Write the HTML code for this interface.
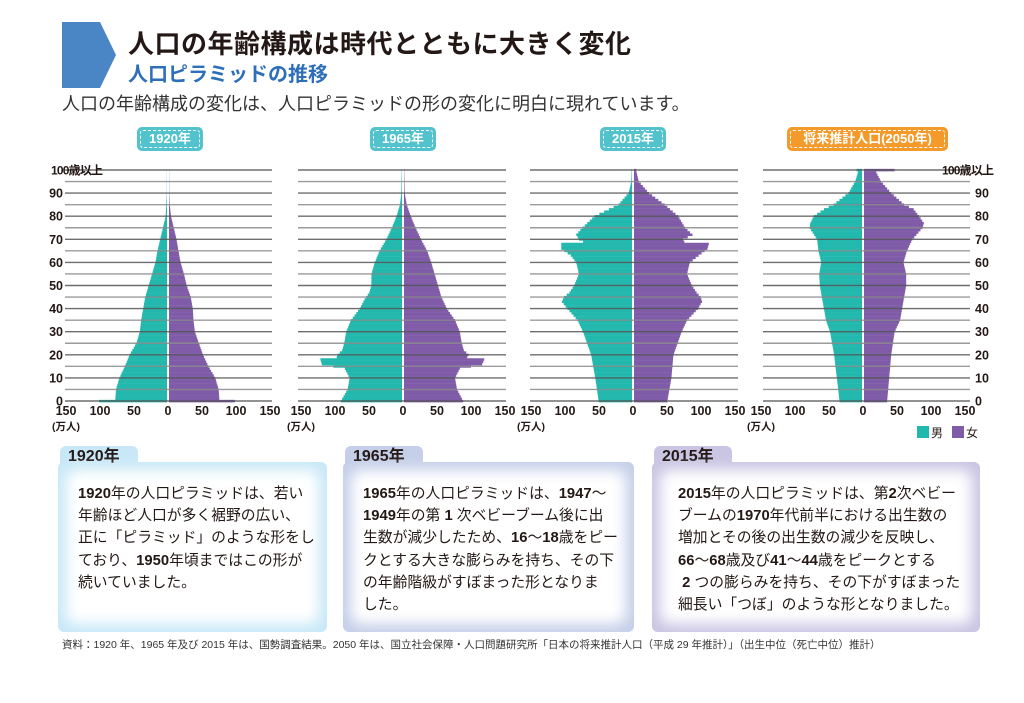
<!DOCTYPE html>
<html><head><meta charset="utf-8">
<style>
body{margin:0;width:1024px;height:703px;background:#fff;overflow:hidden;position:relative;font-family:"Liberation Sans","Noto Sans CJK JP",sans-serif;color:#231815}
.abs{position:absolute}
.badge{position:absolute;top:127px;height:24px;border-radius:5px;background:#52c3cc;color:#fff;font-size:13px;font-weight:bold;text-align:center;line-height:24px}
.badge span{position:absolute;left:3px;right:3px;top:3px;bottom:3px;border:1.5px dashed #fff;border-radius:3px;line-height:16px}
.box{position:absolute;top:462px;height:170px;border-radius:6px}
.tab{position:absolute;top:-16px;left:2px;height:20px;width:70px;border-radius:6px 6px 0 0;font-size:16px;font-weight:bold;padding-left:8px;line-height:22px}
.inner{position:absolute;left:8px;right:8px;top:8px;bottom:8px;background:#fff;filter:blur(7px);border-radius:10px}
.txt{position:absolute;top:21px;font-size:14.8px;line-height:22.2px;color:#231815;white-space:nowrap}
.txt b{font-weight:bold}
</style></head><body>
<svg class="abs" style="left:0;top:0" width="1024" height="703">
<polygon points="62,22 100,22 116,55 100,88 62,88" fill="#4a86c5"/>
</svg>
<div class="abs" style="left:128px;top:24px;font-size:26px;font-weight:bold;letter-spacing:0.5px">人口の年齢構成は時代とともに大きく変化</div>
<div class="abs" style="left:128px;top:58px;font-size:20px;font-weight:bold;color:#2e6fba">人口ピラミッドの推移</div>
<div class="abs" style="left:62px;top:90px;font-size:18px;color:#333">人口の年齢構成の変化は、人口ピラミッドの形の変化に明白に現れています。</div>

<div class="badge" style="left:137px;width:66px"><span>1920年</span></div>
<div class="badge" style="left:370px;width:66px"><span>1965年</span></div>
<div class="badge" style="left:600px;width:66px"><span>2015年</span></div>
<div class="badge" style="left:787px;width:161px;background:#f39a2b"><span>将来推計人口(2050年)</span></div>

<svg id="chart" class="abs" style="left:0;top:0" width="1024" height="703"></svg>

<div class="box" style="left:58px;width:269px;background:#c8e8f8">
 <div class="tab" style="background:#c8e8f8">1920年</div>
 <div class="inner"></div>
 <div class="txt" style="left:20px"><b>1920</b>年の人口ピラミッドは、若い<br>年齢ほど人口が多く裾野の広い、<br>正に「ピラミッド」のような形をし<br>ており、<b>1950</b>年頃まではこの形が<br>続いていました。</div>
</div>
<div class="box" style="left:343px;width:291px;background:#c5cfe9">
 <div class="tab" style="background:#c5cfe9">1965年</div>
 <div class="inner"></div>
 <div class="txt" style="left:20px"><b>1965</b>年の人口ピラミッドは、<b>1947</b>〜<br><b>1949</b>年の第<b> 1 </b>次ベビーブーム後に出<br>生数が減少したため、<b>16</b>〜<b>18</b>歳をピー<br>クとする大きな膨らみを持ち、その下<br>の年齢階級がすぼまった形となりま<br>した。</div>
</div>
<div class="box" style="left:652px;width:328px;background:#c9c5e3">
 <div class="tab" style="background:#c9c5e3">2015年</div>
 <div class="inner"></div>
 <div class="txt" style="left:26px"><b>2015</b>年の人口ピラミッドは、第<b>2</b>次ベビー<br>ブームの<b>1970</b>年代前半における出生数の<br>増加とその後の出生数の減少を反映し、<br><b>66</b>〜<b>68</b>歳及び<b>41</b>〜<b>44</b>歳をピークとする<br>&nbsp;<b>2</b> つの膨らみを持ち、その下がすぼまった<br>細長い「つぼ」のような形となりました。</div>
</div>
<div class="abs" style="left:62px;top:637px;font-size:10.5px;color:#333;white-space:nowrap">資料：1920 年、1965 年及び 2015 年は、国勢調査結果。2050 年は、国立社会保障・人口問題研究所「日本の将来推計人口（平成 29 年推計）」（出生中位（死亡中位）推計）</div>

<script>
var NS="http://www.w3.org/2000/svg",svg=document.getElementById("chart");
function el(t,a,txt){var e=document.createElementNS(NS,t);for(var k in a)e.setAttribute(k,a[k]);if(txt!==undefined)e.textContent=txt;svg.appendChild(e);return e;}
var S=0.68,Y0=401,DY=2.31;
var panels=[
{c:168,x0:65,x1:272,left:true,
 M:[[0,100],[1,76],[5,75],[10,70],[15,62],[20,55],[25,45],[30,40],[35,38],[40,35],[45,32],[50,27],[55,22],[60,17],[65,14],[70,10],[75,6],[80,2],[85,1],[90,0.3],[100,0.2]],
 F:[[0,97],[1,74],[5,73],[10,68],[15,58],[20,50],[25,44],[30,38],[35,36],[40,35],[45,32],[50,26],[55,22],[60,17],[65,14],[70,11],[75,7],[80,3],[85,1],[90,0.3],[100,0.2]]},
{c:403,x0:298,x1:506,
 M:[[0,90],[5,80],[10,77],[14,84],[16,118],[18,120],[19,96],[20,95],[22,88],[25,85],[30,82],[35,75],[40,62],[44,55],[47,48],[50,45],[55,45],[60,40],[65,33],[70,23],[75,15],[80,8],[85,3],[90,1],[100,0.3]],
 F:[[0,87],[5,78],[10,75],[14,82],[16,115],[18,118],[19,93],[20,95],[22,88],[25,85],[30,82],[35,75],[40,63],[45,55],[50,50],[55,45],[60,40],[65,34],[70,25],[75,17],[80,10],[85,4],[90,1],[100,0.3]]},
{c:633,x0:530,x1:738,
 M:[[0,49],[10,54],[20,60],[25,66],[30,72],[35,80],[40,95],[43,103],[45,100],[47,92],[50,85],[55,78],[60,82],[63,90],[66,104],[68,104],[69,72],[70,78],[72,82],[75,73],[80,55],[85,20],[90,5],[95,1],[100,0.5]],
 F:[[0,49],[10,55],[20,58],[25,64],[30,70],[35,78],[40,94],[43,100],[45,98],[47,92],[50,85],[55,78],[60,82],[63,95],[66,108],[68,110],[69,74],[70,72],[72,86],[75,75],[80,65],[85,45],[90,22],[95,7],[100,3]]},
{c:863,x0:763,x1:970,right:true,
 M:[[0,33],[10,37],[20,41],[30,47],[35,53],[40,56],[50,62],[55,63],[60,60],[65,64],[70,66],[75,77],[77,76],[80,71],[83,56],[85,42],[90,20],[95,10],[99,6],[100,8]],
 F:[[0,34],[10,37],[20,40],[30,45],[35,53],[40,56],[50,62],[55,62],[60,58],[65,63],[70,71],[75,86],[77,88],[80,81],[83,73],[85,59],[90,40],[95,25],[99,18],[100,45]]}
];
function interp(arr,a){for(var i=0;i<arr.length-1;i++){if(a>=arr[i][0]&&a<=arr[i+1][0]){var t=(a-arr[i][0])/(arr[i+1][0]-arr[i][0]||1);return arr[i][1]+t*(arr[i+1][1]-arr[i][1]);}}return arr[arr.length-1][1];}
panels.forEach(function(p){
 for(var a=0;a<=100;a++){
  var y=Y0-(a+1)*DY+DY/2, h=DY+0.2;
  var m=interp(p.M,a)*S, f=interp(p.F,a)*S;
  el("rect",{x:p.c-1-m,y:y,width:m,height:h,fill:"#22b8ad"});
  el("rect",{x:p.c+1,y:y,width:f,height:h,fill:"#7f5ba8"});
 }
 for(var g=0;g<=100;g+=5){
  var gy=Y0-g*DY;
  el("line",{x1:p.x0,x2:p.x1,y1:gy,y2:gy,stroke:g%10==0?"#555":"#8a8a8a","stroke-width":1.4,"stroke-opacity":0.85});
 }
 [-150,-100,-50,0,50,100,150].forEach(function(v){
  el("text",{x:p.c+v*S,y:415,"text-anchor":"middle","font-size":"12.5","font-weight":"bold",fill:"#231815","font-family":"Liberation Sans, sans-serif"},Math.abs(v));
 });
 el("text",{x:p.c-150*S-14,y:430,"font-size":"10.5","font-weight":"bold",fill:"#231815","font-family":"Liberation Sans, Noto Sans CJK JP, sans-serif"},"(万人)");
 if(p.left){
  for(var g2=0;g2<100;g2+=10)el("text",{x:63,y:Y0-g2*DY+4.5,"text-anchor":"end","font-size":"12.5","font-weight":"bold",fill:"#231815"},g2);
  el("text",{x:51,y:Y0-100*DY+4.5,"font-size":"12","font-weight":"bold",fill:"#231815","font-family":"Liberation Sans, Noto Sans CJK JP, sans-serif","letter-spacing":"-0.8"},"100歳以上");
 }
 if(p.right){
  for(var g3=0;g3<100;g3+=10)el("text",{x:975,y:Y0-g3*DY+4.5,"font-size":"12.5","font-weight":"bold",fill:"#231815"},g3);
  el("text",{x:942,y:Y0-100*DY+4.5,"font-size":"12","font-weight":"bold",fill:"#231815","font-family":"Liberation Sans, Noto Sans CJK JP, sans-serif","letter-spacing":"-0.8"},"100歳以上");
 }
});
el("rect",{x:917,y:426,width:12,height:12,fill:"#22b8ad"});
el("text",{x:931,y:437,"font-size":"12",fill:"#231815","font-family":"Noto Sans CJK JP, sans-serif"},"男");
el("rect",{x:952,y:426,width:12,height:12,fill:"#7f5ba8"});
el("text",{x:966,y:437,"font-size":"12",fill:"#231815","font-family":"Noto Sans CJK JP, sans-serif"},"女");
</script>
</body></html>
